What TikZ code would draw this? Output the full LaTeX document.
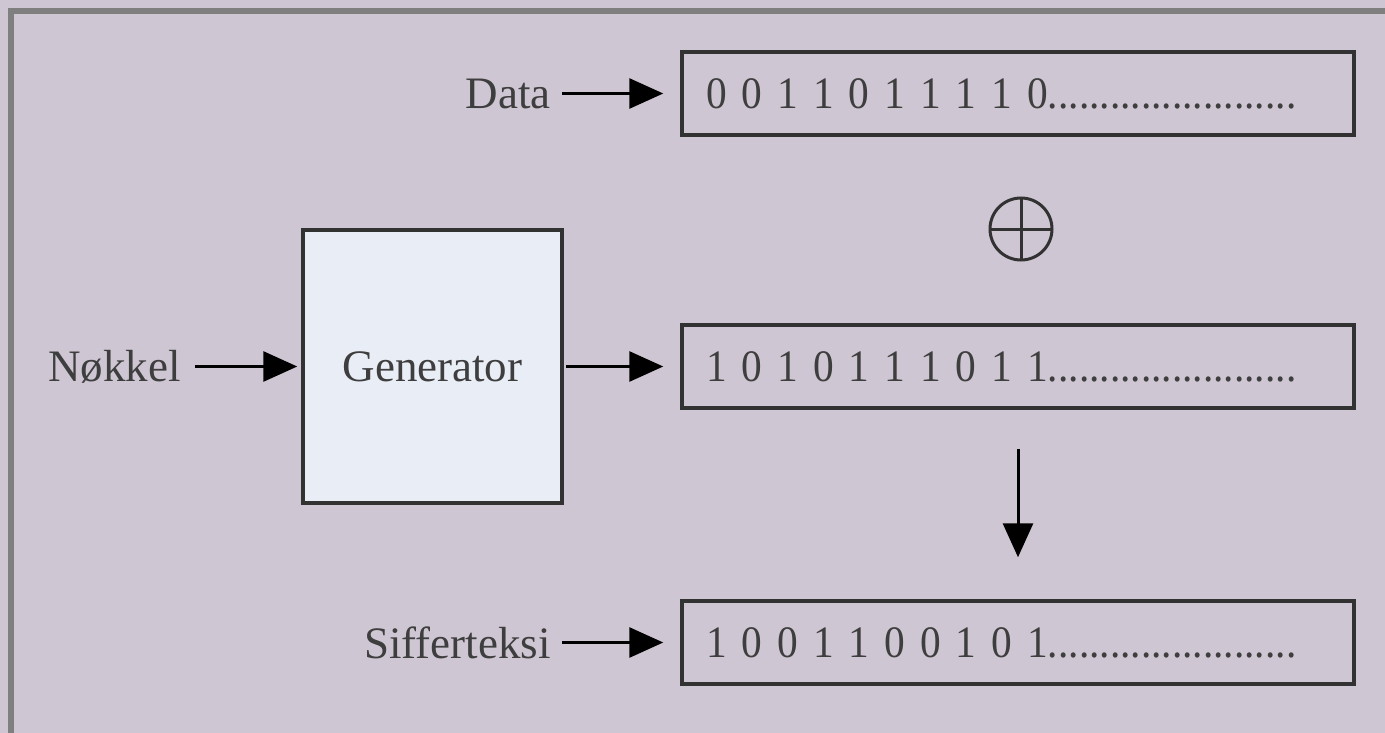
\documentclass[tikz,border=0pt]{standalone}
\usepackage{fontspec}
\setmainfont{Liberation Serif}
\newfontfamily\bitfont[FakeStretch=0.92]{Liberation Serif}
\usetikzlibrary{arrows.meta}
\definecolor{bg}{RGB}{207,198,211}
\definecolor{framegray}{RGB}{127,127,127}
\definecolor{genfill}{RGB}{233,237,246}
\definecolor{ink}{RGB}{50,50,50}
\definecolor{txt}{RGB}{62,62,62}
\begin{document}
\begin{tikzpicture}[x=1pt,y=-1pt,
  font=\fontsize{45}{54}\selectfont,
  bitbox/.style={draw=ink, line width=3.5pt, minimum width=672pt, minimum height=83pt,
    text width=624pt, align=left, inner xsep=24pt, inner ysep=0pt, text=txt,
    font=\bitfont\fontsize{45}{54}\selectfont},
  genbox/.style={draw=ink, fill=genfill, line width=3.5pt, minimum width=259pt,
    minimum height=273pt, text=txt},
  lab/.style={inner sep=0pt, anchor=east, text=txt},
  xorsym/.style={circle, draw=ink, line width=3pt, minimum size=62pt, inner sep=0pt,
    path picture={\draw[ink, line width=3pt]
      (path picture bounding box.north) -- (path picture bounding box.south)
      (path picture bounding box.west) -- (path picture bounding box.east);}},
  arr/.style={draw=black, line width=3pt, -{Triangle[length=34pt,width=30pt]}}
]
\useasboundingbox (0,0) rectangle (1385,733);
\clip (0,0) rectangle (1385,733);
\fill[bg] (0,0) rectangle (1385,733);
\draw[framegray, line width=6pt] (11,11) rectangle (1420,760);

\node[bitbox] (db) at (1018,93.5) {0 0 1 1 0 1 1 1 1 0........................};
\node[bitbox] (kb) at (1018,366.5) {1 0 1 0 1 1 1 0 1 1........................};
\node[bitbox] (cb) at (1018,642.5) {1 0 0 1 1 0 0 1 0 1........................};
\node[genbox] (g) at (432.5,366.5) {Generator};
\node[lab] (dl) at (551,93.5) {Data};
\node[lab] (sl) at (551,642.5) {Sifferteksi};
\node[lab] (nl) at (181,366.5) {Nøkkel};
\node[xorsym] (xo) at (1021,229) {};

\draw[arr, shorten <=11pt, shorten >=17pt] (dl.east) -- (db.west);
\draw[arr, shorten <=11pt, shorten >=17pt] (sl.east) -- (cb.west);
\draw[arr, shorten <=14pt, shorten >=4pt] (nl.east) -- (g.west);
\draw[arr, shorten <=2pt, shorten >=17pt] (g.east) -- (kb.west);
\draw[arr, shorten <=39pt, shorten >=42pt] (kb.south) -- (cb.north);
\end{tikzpicture}
\end{document}
